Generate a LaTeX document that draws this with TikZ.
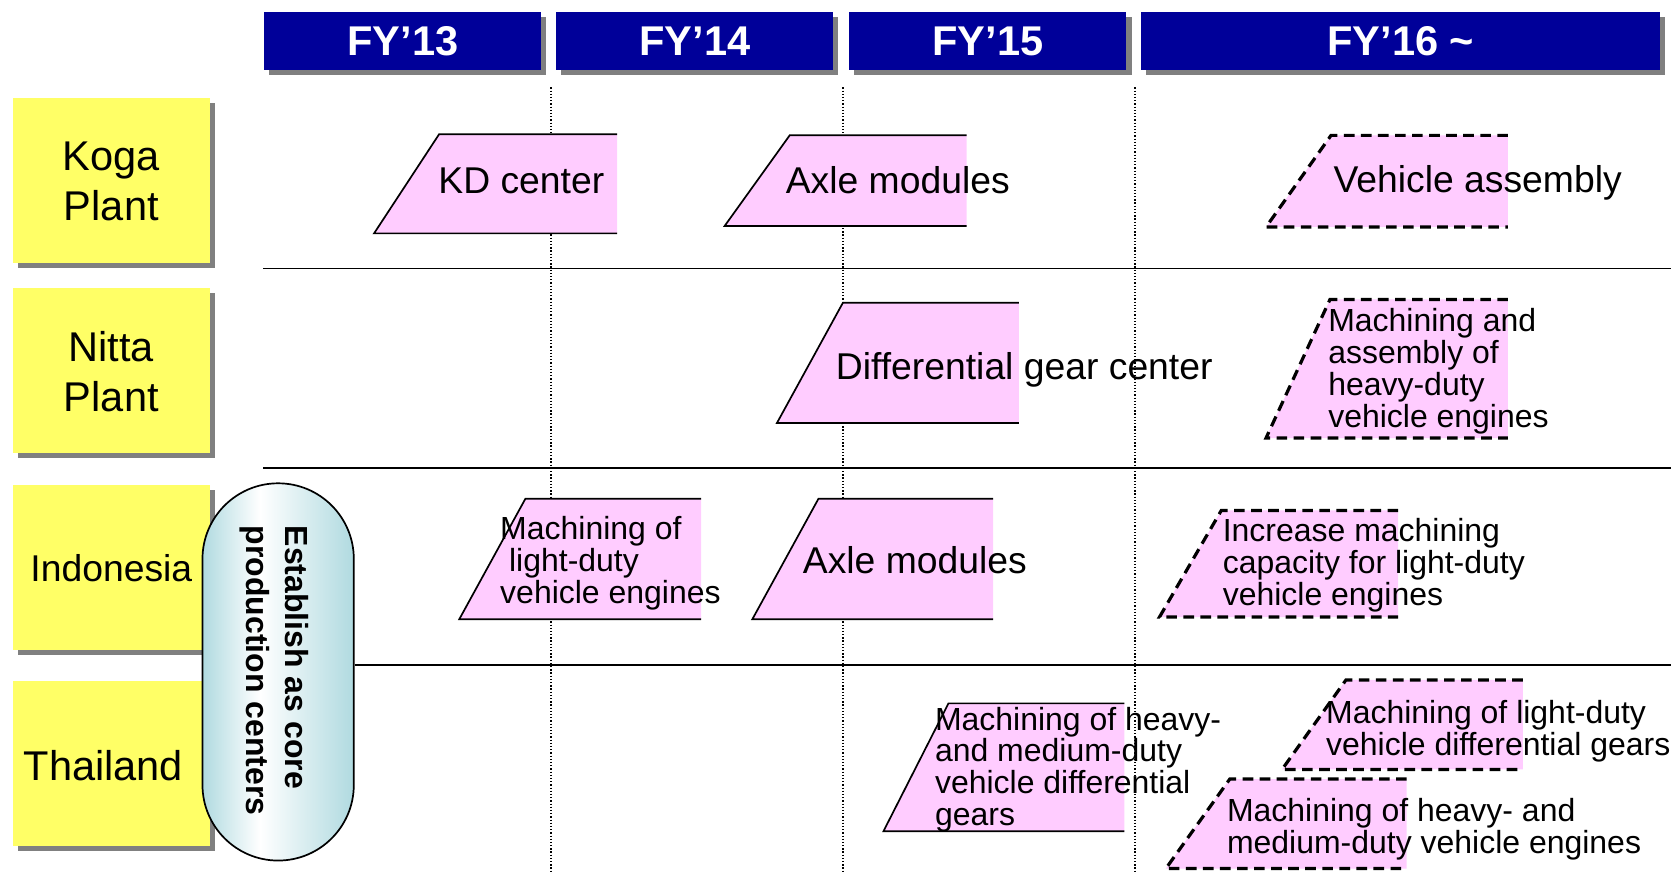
\documentclass[tikz,border=0pt]{standalone}
\usepackage{fontspec}
\setmainfont{Liberation Sans}
\usetikzlibrary{shadows}

\definecolor{yearblue}{RGB}{0,0,153}
\definecolor{siteyellow}{RGB}{255,255,102}
\definecolor{stagepink}{RGB}{255,204,255}
\definecolor{shadegray}{RGB}{128,128,128}
\definecolor{coreteal}{RGB}{176,218,224}

% pale teal at both sides, brightest a little left of the middle
\pgfdeclarehorizontalshading{capsulefade}{100bp}{color(0bp)=(coreteal); color(25bp)=(coreteal); color(44bp)=(white); color(75bp)=(coreteal); color(100bp)=(coreteal)}

% one roll-out stage: pink quadrilateral with a slanted left edge and an open right edge
% #1 line style, #2 top-left x, #3 bottom-left x, #4 right x, #5 top y, #6 bottom y
\newcommand\stageshape[6]{%
  \fill[stagepink] (#4,#5) -- (#2,#5) -- (#3,#6) -- (#4,#6) -- cycle;
  \draw[#1] (#4,#5) -- (#2,#5) -- (#3,#6) -- (#4,#6);
}

\begin{document}
\begin{tikzpicture}[x=0.5pt,y=-0.5pt,
  shadowed/.style={general shadow={fill=shadegray,shadow xshift=2.4pt,shadow yshift=-2.4pt}},
  yearbox/.style={shadowed,fill=yearblue,inner sep=0pt,minimum width=130pt,minimum height=27.5pt,
    text=white,font=\fontsize{19.5}{23}\selectfont\bfseries},
  sitebox/.style={shadowed,fill=siteyellow,inner sep=0pt,minimum width=92.5pt,minimum height=77.5pt},
  sitelabel/.style={align=center,inner sep=0pt,font=\fontsize{19.5}{23.5}\selectfont},
  gridline/.style={line width=0.7pt},
  yearline/.style={line width=0.5pt,dash pattern=on 0.6pt off 0.9pt},
  firm/.style={line width=0.8pt},
  planned/.style={line width=1.5pt,dash pattern=on 5pt off 3pt},
  stagetext/.style={anchor=base west,inner sep=0pt,font=\fontsize{17.5}{21}\selectfont},
  % multi-line notes are placed by the baseline of their last line
  stagenote/.style={anchor=base west,inner sep=0pt,align=left,font=\fontsize{15}{15}\selectfont},
]
\useasboundingbox (0,0) rectangle (1568,820);

% year separators
\foreach \x in {517,791,1065} \draw[yearline] (\x,82) -- (\x,820);

% year headers
\node[yearbox] (fy13) at (378,38.5) {FY’13};
\node[yearbox] (fy14) at (652,38.5) {FY’14};
\node[yearbox] (fy15) at (927,38.5) {FY’15};
\node[yearbox,minimum width=243.5pt] (fy16) at (1314.5,38.5) {FY’16 \textasciitilde};

% sites
\node[sitebox] (koga) at (104.5,169) {};
\node[sitebox] (nitta) at (104.5,347.5) {};
\node[sitebox] (indonesia) at (104.5,532.5) {};
\node[sitebox] (thailand) at (104.5,716.5) {};
\node[sitelabel] (kogalabel) at (104.5,170) {Koga\\Plant};
\node[sitelabel] (nittalabel) at (104.5,349) {Nitta\\Plant};
\node[sitelabel,font=\fontsize{17.5}{21}\selectfont] (indonesialabel) at (104.5,533) {Indonesia};
\node[sitelabel] (thailandlabel) at (97,718) {Thailand};

% overseas sites become core production centers
\node[draw,line width=0.8pt,rounded corners=35.5pt,minimum width=71pt,minimum height=177pt,
  inner sep=0pt,shading=capsulefade] (core) at (261,630.5) {};
\node[rotate=-90,anchor=base west,align=left,inner sep=0pt,font=\fontsize{15}{18}\selectfont\bfseries]
  (corelabel) at (231.5,493) {Establish as core\\production centers};

% row separators
\coordinate (row1) at (1568,252);
\coordinate (row2) at (1568,439);
\coordinate (row3) at (1568,624);
\draw[gridline] (247,252) -- (row1);
\draw[gridline] (247,439) -- (row2);
\draw[gridline] (core.east |- row3) -- (row3);

% stages
\stageshape{firm}{412}{351}{579}{126}{219}
\stageshape{firm}{741}{680}{907}{127}{212}
\stageshape{planned}{1249}{1188}{1415}{127}{213}
\stageshape{firm}{791}{729}{956}{284}{397}
\stageshape{planned}{1248}{1188}{1415}{281}{411}
\stageshape{firm}{493}{431}{658}{468}{581}
\stageshape{firm}{768}{706}{932}{468}{581}
\stageshape{planned}{1146}{1088}{1312}{479}{579}
\stageshape{firm}{890}{829}{1055}{660}{780}
\stageshape{planned}{1263}{1203}{1429}{638}{722}
\stageshape{planned}{1154}{1094}{1320}{731}{815}

\node[stagetext] (kd) at (411,182) {KD center};
\node[stagetext] (axlekoga) at (737,182) {Axle modules};
\node[stagetext] (assembly) at (1251,181) {Vehicle assembly};
\node[stagetext] (diffgear) at (784,356) {Differential gear center};
\node[stagenote] (heavyeng) at (1246,401) {Machining and\\assembly of\\heavy-duty\\vehicle engines};
\node[stagenote] (lighteng) at (469,566) {Machining of\\\hspace*{0.278em}light-duty\\vehicle engines};
\node[stagetext] (axleindo) at (753,538) {Axle modules};
\node[stagenote] (capacity) at (1147,568) {Increase machining\\capacity for light-duty\\vehicle engines};
\node[stagenote] (heavydiff) at (877,775) {Machining of heavy-\\and medium-duty\\vehicle differential\\gears};
\node[stagenote] (lightdiff) at (1244,709) {Machining of light-duty\\vehicle differential gears};
\node[stagenote] (heavymed) at (1151,801) {Machining of heavy- and\\medium-duty vehicle engines};
\end{tikzpicture}
\end{document}
